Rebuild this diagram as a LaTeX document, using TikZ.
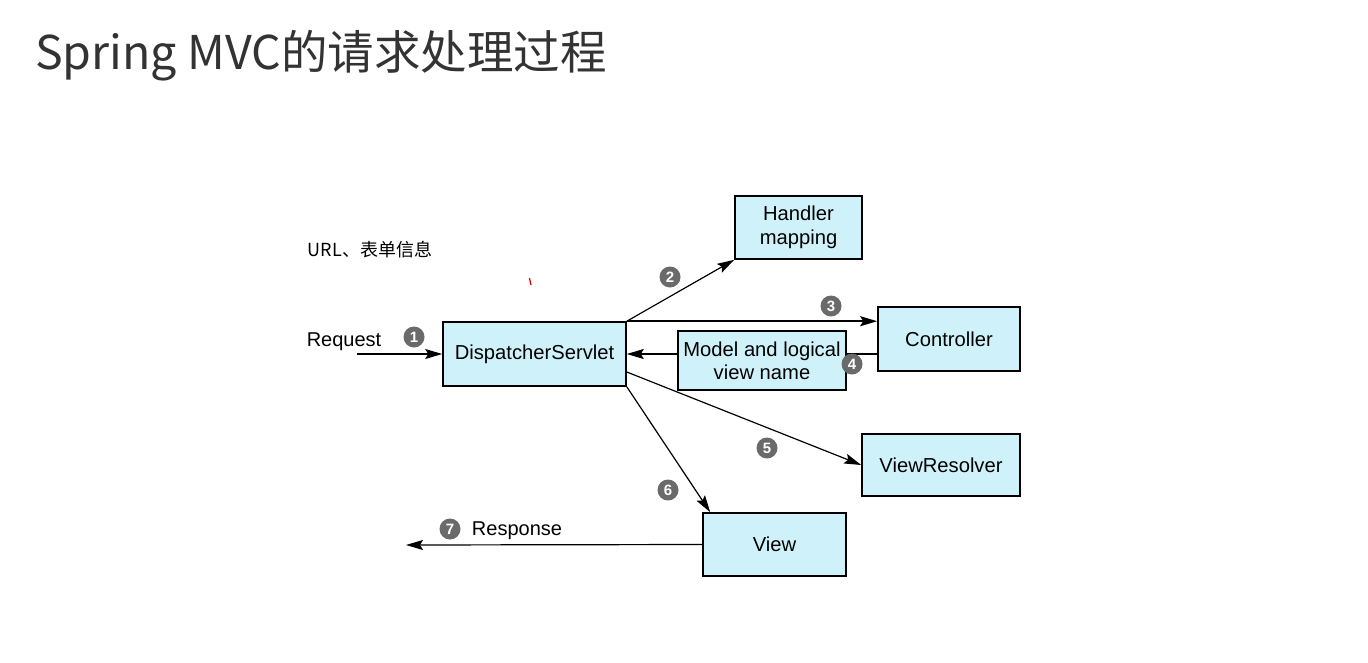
\documentclass[tikz,border=0pt]{standalone}
\usepackage{fontspec}
\setmainfont{Liberation Sans}
\newfontfamily\cjk{Noto Sans CJK SC}
\usetikzlibrary{arrows.meta}
\definecolor{boxfill}{HTML}{CFF2FA}
\definecolor{numgray}{HTML}{6A6A6A}
\definecolor{titlegray}{HTML}{333333}
\begin{document}
\begin{tikzpicture}[x=1pt,y=-1pt,
  box/.style={draw=black, line width=1.6pt, fill=boxfill, inner sep=2pt, align=center,
    font=\fontsize{20.2}{24}\selectfont},
  arr/.style={line width=1.2pt, -{Stealth[length=17pt,width=10pt,inset=3pt]}},
  num/.style={circle, fill=numgray, inner sep=0pt, minimum size=21pt, text=white,
    font=\fontsize{15}{15}\selectfont\bfseries},
  lbl/.style={font=\fontsize{20}{22}\selectfont}]
\useasboundingbox (0,0) rectangle (1368,662);
\fill[white] (0,0) rectangle (1368,662);
% title
\node[anchor=west, text=titlegray, inner sep=0pt, font=\cjk\fontsize{46.5}{52}\selectfont] (title) at (35,56) {Spring MVC的请求处理过程};
% boxes
\node[box, minimum width=183pt, minimum height=64pt] (ds) at (534.5,354) {DispatcherServlet};
\node[box, minimum width=127pt, minimum height=63pt] (hm) at (798.5,227.5) {Handler\\mapping};
\node[box, minimum width=142pt, minimum height=64pt] (c) at (949,339) {Controller};
\node[box, minimum width=168pt, minimum height=59pt, font=\fontsize{20.2}{23}\selectfont] (m) at (762,360.5) {Model and logical\\view name};
\node[box, minimum width=158pt, minimum height=62pt] (vr) at (941,465) {ViewResolver};
\node[box, minimum width=143pt, minimum height=63pt] (v) at (774.5,544.5) {View};
% labels
\node[lbl] (req) at (344,342) {Request};
\node[lbl] (resp) at (517,531) {Response};
\node[font=\cjk\fontsize{18}{20}\selectfont] (url) at (370,250) {URL、表单信息};
% free ends
\coordinate (reqstart) at (357,354);
\coordinate (respend) at (406,545);
\coordinate (c4) at ([yshift=-15pt]c.west);
\coordinate (ds5) at ([yshift=-18pt]ds.east);
% connectors
\draw[arr] (reqstart) -- (ds.west);
\draw[arr] (ds.north east) -- (hm.south west);
\draw[arr, line width=2pt] (ds.north east) -- (ds.north east -| c.west);
\draw[line width=1.2pt] (c4) -- (c4 -| m.east);
\draw[arr] (m.west |- ds.east) -- (ds.east);
\draw[arr] (ds5) -- (vr.west);
\draw[arr] (ds.south east) -- ([xshift=8pt]v.north west);
\draw[arr] (v.west) -- (respend);
% numbers
\node[num] (n1) at (414,337) {1};
\node[num] (n2) at (670,277) {2};
\node[num] (n3) at (831,306) {3};
\node[num] (n4) at (852,364) {4};
\node[num] (n5) at (767,448) {5};
\node[num] (n6) at (668,490) {6};
\node[num] (n7) at (450,529) {7};
% stray red mark
\draw[red!80!black, line width=1.2pt] (529.5,278) -- (531,285);
\end{tikzpicture}
\end{document}
